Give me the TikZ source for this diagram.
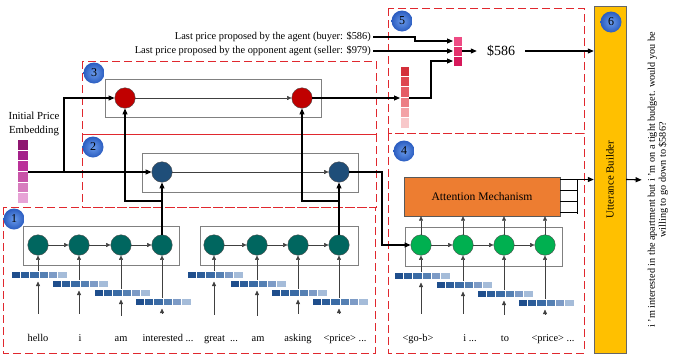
\documentclass[tikz,border=0pt]{standalone}
\usepackage{fontspec}
\setmainfont{Liberation Serif}
\usetikzlibrary{arrows.meta,calc}

\definecolor{boxred}{HTML}{E0282E}
\definecolor{tealc}{HTML}{00665F}
\definecolor{greenc}{HTML}{00B050}
\definecolor{navyc}{HTML}{1F4E79}
\definecolor{redc}{HTML}{C00000}
\definecolor{orangec}{HTML}{ED7D31}
\definecolor{ubyellow}{HTML}{FFC000}
\definecolor{badgeblue}{HTML}{2A5CC0}
\definecolor{badgelight}{HTML}{6A9BEB}
% word embedding cells
\definecolor{em1}{HTML}{1F4E8C}
\definecolor{em2}{HTML}{2C5D99}
\definecolor{em3}{HTML}{3A6BA5}
\definecolor{em4}{HTML}{5580B3}
\definecolor{em5}{HTML}{7D9BC6}
\definecolor{em6}{HTML}{A5BCD9}
% price embedding cells
\definecolor{pe1c}{HTML}{8E1670}
\definecolor{pe2c}{HTML}{A4208A}
\definecolor{pe3c}{HTML}{BA3199}
\definecolor{pe4c}{HTML}{C854A8}
\definecolor{pe5c}{HTML}{D77DBE}
\definecolor{pe6c}{HTML}{E7A3D6}
% price decoder cells
\definecolor{rd1c}{HTML}{D42F3A}
\definecolor{rd2c}{HTML}{DE4650}
\definecolor{rd3c}{HTML}{E55D66}
\definecolor{rd4c}{HTML}{EC7E84}
\definecolor{rd5c}{HTML}{F3A2A6}
\definecolor{rd6c}{HTML}{F8C8CA}
\definecolor{pk1c}{HTML}{EE4B84}
\definecolor{pk2c}{HTML}{E3306B}
\definecolor{pk3c}{HTML}{D6185A}

\begin{document}
\begin{tikzpicture}[
x=1pt, y=-1pt,
font=\fontsize{10.4}{12}\selectfont,
arr/.style={-{Triangle[length=6pt,width=5pt]}, line width=1.1pt, black},
garr/.style={-{Triangle[length=4.5pt,width=4pt]}, line width=0.5pt, black!75},
unit/.style={circle, draw=black!70, line width=0.4pt, fill=#1, minimum size=20.5pt, inner sep=0pt},
stage/.style={dash pattern=on 8pt off 4pt, draw=boxred, line width=0.9pt},
layer/.style={draw=black!50, line width=0.8pt},
badge/.style={circle, shading=radial, inner color=badgelight, outer color=badgeblue, minimum size=21pt, inner sep=0pt, font=\fontsize{12}{13}\selectfont},
cell/.style={draw=white, line width=0.4pt, fill=#1, minimum width=9.3pt, minimum height=7.5pt, inner sep=0pt, outer sep=0pt, anchor=north west},
word/.style={anchor=base, inner sep=1pt}
]
\useasboundingbox (0,0) rectangle (676,362);

% --- Stages (dashed) ---
\draw[stage] (82,61) rectangle (376,134);
\draw[stage] (82,134) rectangle (376,207);
\draw[stage] (3,207) rectangle (375,353);
\draw[stage] (388,8) rectangle (584,133);
\draw[stage] (388,133) rectangle (584,353);

% --- Layers ---
\draw[layer] (105,79) rectangle (321,117);
\draw[layer] (142,153) rectangle (358,192);
\draw[layer] (23,226) rectangle (179,265);
\draw[layer] (200,226) rectangle (358,265);
\draw[layer] (405,227) rectangle (562,266);

% --- Encoder: words, embeddings, units ---
\foreach \cx/\top [count=\i] in {38/271,79/280,121/289,162/298,214/271,257/280,298/289,339/298}{
  \node[unit=tealc] (t\i) at (\cx,245) {};
  \foreach \j in {1,...,6}
    \node[cell=em\j] (e\i-\j) at ({\cx-27+(\j-1)*9.3},\top) {};
}
\foreach \w/\wx [count=\i] in {hello/38, i/80, am/121, {interested ...}/168, {great\ \ ...}/221, am/258, asking/298, {<price> ...}/345}
  \node[word] (w\i) at (\wx,341) {\w};
\foreach \i in {1,...,8}{
  \draw[garr, shorten <=19pt, shorten >=3pt] (t\i |- w\i.north) -- (t\i |- e\i-1.south);
  \draw[garr] (t\i |- e\i-1.north) -- (t\i.south);
}

% --- Decoder: words, embeddings, units ---
\foreach \cx/\top [count=\i] in {421/272,463/281,504/290,545/299}{
  \node[unit=greenc] (g\i) at (\cx,245) {};
  \foreach \j in {1,...,6}
    \node[cell=em\j] (f\i-\j) at ({\cx-27+(\j-1)*9.3},\top) {};
}
\foreach \w/\wx [count=\i] in {<go-b>/418, {i ...}/470, to/505, {<price> ...}/553}
  \node[word] (v\i) at (\wx,341) {\w};
\foreach \i in {1,...,4}{
  \draw[garr, shorten <=19pt, shorten >=3pt] (g\i |- v\i.north) -- (g\i |- f\i-1.south);
  \draw[garr] (g\i |- f\i-1.north) -- (g\i.south);
}

% --- Context and price units ---
\node[unit=navyc] (blue1) at (162,172) {};
\node[unit=navyc] (blue2) at (339,172) {};
\node[unit=redc] (red1) at (125,98) {};
\node[unit=redc] (red2) at (302,98) {};

\foreach \a/\b in {t1/t2,t2/t3,t3/t4,t5/t6,t6/t7,t7/t8,g1/g2,g2/g3,g3/g4,red1/red2,blue1/blue2}
  \draw[garr] (\a) -- (\b);

% --- Initial price embedding ---
\node[align=center, font=\fontsize{10.8}{13.5}\selectfont] (pelabel) at (34,124) {Initial Price\\Embedding};
\foreach \j in {1,...,6}
  \node[cell=pe\j c, minimum width=11pt, minimum height=10.7pt] (pe\j) at (17,{139+(\j-1)*10.7}) {};

\coordinate (jn) at (64,172);
\coordinate (br1) at (162,201);
\coordinate (br2) at (339,201);
\draw[arr] (blue1 -| pe1.east) -- (blue1.west);
\draw[arr] (jn) |- (red1.west);
\draw[arr] (t4.north) -- (blue1.south);
\draw[arr] (br1) -| (red1.south);
\draw[arr] (t8.north) -- (blue2.south);
\draw[arr] (br2) -| (red2.south);
\draw[arr] (blue2.east) -- (382,172) |- (g1.west);

% --- Attention ---
\node[draw=black!65, fill=orangec, minimum width=156pt, minimum height=39pt, font=\fontsize{11.6}{13}\selectfont] (att) at (482,196.5) {Attention Mechanism};
\foreach \i in {1,...,4}
  \draw[garr] (g\i) -- (g\i |- att.south);

% --- Utterance builder ---
\node[draw=black!60, fill=ubyellow, minimum width=32pt, minimum height=347pt, inner sep=0pt] (ub) at (610,179.5) {};
\node[rotate=90, font=\fontsize{10.8}{12}\selectfont] (ubtext) at (ub.center) {Utterance Builder};

\draw[arr] (ub.west -| att.east) -- (ub.west);
\draw[line width=1.1pt] ($(ub.west -| att.east)+(17,0)$) -- ++(0,34);
\foreach \dy in {11,22,33}
  \draw[line width=1.1pt] ($(ub.west -| att.east)+(0,\dy)$) -- ++(17,0);

% --- Price decoder ---
\foreach \j in {1,...,6}
  \node[cell=rd\j c, minimum width=9pt, minimum height=10.3pt] (rd\j) at (400,{66+(\j-1)*10.3}) {};
\foreach \j in {1,...,3}
  \node[cell=pk\j c, minimum width=9pt, minimum height=10pt] (pk\j) at (453,{36+(\j-1)*10}) {};

\node[anchor=east, inner sep=2pt] (lp1) at (373,37) {Last price proposed by the agent (buyer: \$586)};
\node[anchor=east, inner sep=2pt] (lp2) at (373,51) {Last price proposed by the opponent agent (seller: \$979)};
\node[font=\fontsize{14}{16}\selectfont, inner xsep=10pt] (price) at (501,51) {\$586};

\draw[arr] (red2.east) -- (red2.east -| rd1.west);
\draw[arr] (red2.east -| rd1.east) -- ++(22,0) |- (pk3.west);
\draw[arr] (lp1.east) -- ++(42,0) |- (pk1.west);
\draw[arr] (lp2.east) -- (pk2.west);
\draw[arr] (pk2.east) -- (price.west);
\draw[arr] (price.east) -- (price.east -| ub.west);

% --- Output utterance ---
\node[rotate=90, align=center, inner sep=1pt, font=\fontsize{10.2}{11}\selectfont] (out) at (658,180)
  {i 'm interested in the apartment but i 'm on a tight budget. would you be\\willing to go down to \$586?};
\draw[arr, shorten >=5pt] (ub.east) -- (out.north);

% --- Stage badges ---
\node[badge] (b1) at (14,219) {1};
\node[badge] (b2) at (93,147) {2};
\node[badge] (b3) at (94,73) {3};
\node[badge] (b4) at (404,151) {4};
\node[badge] (b5) at (402,21) {5};
\node[badge] (b6) at (611,22) {6};

\end{tikzpicture}
\end{document}
